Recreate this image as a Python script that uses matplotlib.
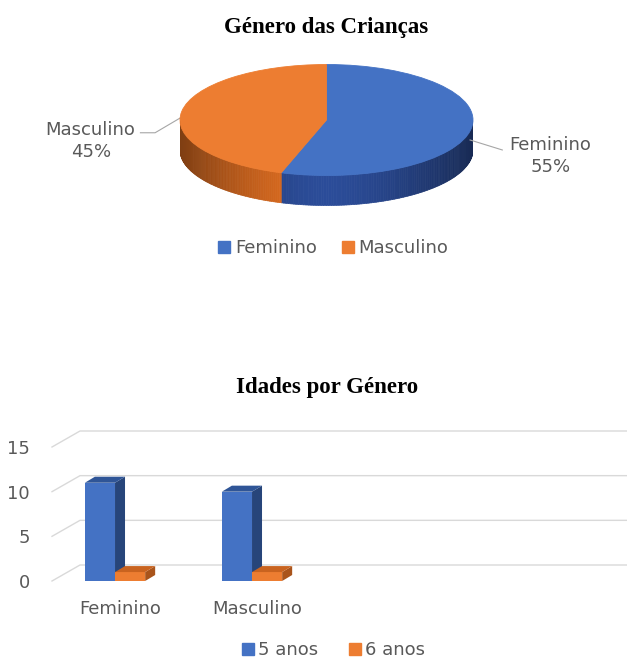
import numpy as np
import matplotlib
matplotlib.use("Agg")
import matplotlib.pyplot as plt
from matplotlib.patches import Polygon
from matplotlib.collections import PolyCollection
from matplotlib.lines import Line2D

# data
genero = ["Feminino", "Masculino"]
genero_pct = [55, 45]
idades_cats = ["Feminino", "Masculino"]
anos5 = [11, 10]
anos6 = [1, 1]
serie_nomes = ["5 anos", "6 anos"]

BLUE = "#4472C4"
ORANGE = "#ED7D31"
GRAY = "#595959"
W, H = 627, 660

fig = plt.figure(figsize=(W / 100, H / 100), dpi=100)


def px_box(x0, y0, x1, y1):
    return [x0 / W, 1 - y1 / H, (x1 - x0) / W, (y1 - y0) / H]


# ---------- pie ----------
ax1 = fig.add_axes(px_box(180, 60, 473, 210))
wedges, _ = ax1.pie(genero_pct, colors=[BLUE, ORANGE], startangle=90,
                    counterclock=False, radius=1.0,
                    wedgeprops=dict(linewidth=0.6))
for w, c in zip(wedges, [BLUE, ORANGE]):
    w.set_edgecolor(c)
    w.set_zorder(3)
ax1.set_aspect("auto")
ax1.set_xlim(-1, 1)
ax1.set_ylim(-90 / 55.5, 60 / 55.5)
ax1.axis("off")

depth = 30 / 55.5
side_base = {BLUE: np.array([0.17, 0.30, 0.60]), ORANGE: np.array([0.90, 0.44, 0.13])}
polys, cols = [], []
for w, c in zip(wedges, [BLUE, ORANGE]):
    angs = np.linspace(w.theta1, w.theta2, 200)
    for a, b in zip(angs[:-1], angs[1:]):
        m = np.deg2rad((a + b) / 2)
        if np.sin(m) >= 0:
            continue
        ra, rb = np.deg2rad(a), np.deg2rad(b)
        p = [(np.cos(ra), np.sin(ra)), (np.cos(rb), np.sin(rb)),
             (np.cos(rb), np.sin(rb) - depth), (np.cos(ra), np.sin(ra) - depth)]
        polys.append(p)
        f = 1.0 - 0.45 * abs(np.cos(m)) ** 1.5
        cols.append(np.clip(side_base[c] * f, 0, 1))
ax1.add_collection(PolyCollection(polys, facecolors=cols, edgecolors=cols,
                                  linewidths=0.5, zorder=2))

# leader lines and labels
ax1.plot([-1.27, -1.17, -0.99], [-0.23, -0.23, 0.05], color="#a6a6a6",
         lw=0.8, clip_on=False)
ax1.plot([0.98, 1.20], [-0.36, -0.54], color="#a6a6a6", lw=0.8, clip_on=False)
ax1.text(-1.61, -0.38, f"{genero[1]}\n{genero_pct[1]}%", ha="center",
         va="center", color=GRAY, fontsize=13, linespacing=1.25)
ax1.text(1.53, -0.65, f"{genero[0]}\n{genero_pct[0]}%", ha="center",
         va="center", color=GRAY, fontsize=13, linespacing=1.25)

fig.text(326 / W, 1 - 28 / H, "Género das Crianças", ha="center", va="center",
         fontsize=16.5, fontweight="bold", family="Liberation Serif")

h1 = [Line2D([], [], marker="s", ls="", color=c, markersize=8) for c in [BLUE, ORANGE]]
fig.legend(h1, genero, loc="center", bbox_to_anchor=(332 / W, 1 - 248 / H),
           ncol=2, frameon=False, fontsize=13, labelcolor=GRAY,
           handletextpad=0.1, columnspacing=1.2, handlelength=1.0)

# ---------- bars ----------
ax2 = fig.add_axes(px_box(52, 447, 600, 581))
ax2.set_xlim(-0.5, 3.5)
ax2.set_ylim(0, 15)
for s in ax2.spines.values():
    s.set_visible(False)
ax2.set_yticks([0, 5, 10, 15])
ax2.set_xticks(range(len(idades_cats)))
ax2.set_xticklabels(idades_cats)
ax2.tick_params(length=0, labelsize=13, labelcolor=GRAY)
ax2.tick_params(axis="y", pad=16)
ax2.tick_params(axis="x", pad=14)

pxx = 548 / 4.0
pxy = 134 / 15.0
gdx, gdy = 28 / pxx, 16 / pxy
for v in [0, 5, 10, 15]:
    ax2.plot([-0.5, -0.5 + gdx, 3.7], [v, v + gdy, v + gdy], color="#d9d9d9",
             lw=1, clip_on=False, zorder=0)

bw = 0.22
bdx, bdy = 10 / pxx, 6 / pxy
x = np.arange(len(idades_cats))


def bar3d(xs, hs, front, top, side, z):
    ax2.bar(xs, hs, width=bw, align="edge", color=front, zorder=z, linewidth=0)
    for x0, h in zip(xs, hs):
        x1 = x0 + bw
        ax2.add_patch(Polygon([(x1, 0), (x1 + bdx, bdy), (x1 + bdx, h + bdy), (x1, h)],
                              closed=True, color=side, zorder=z, lw=0))
        ax2.add_patch(Polygon([(x0, h), (x0 + bdx, h + bdy), (x1 + bdx, h + bdy), (x1, h)],
                              closed=True, color=top, zorder=z, lw=0))


bar3d(x - 0.26, anos5, BLUE, "#2f5597", "#27457a", 2)
bar3d(x - 0.26 + bw, anos6, ORANGE, "#c9631f", "#a9541b", 3)

fig.text(327 / W, 1 - 388 / H, "Idades por Género", ha="center", va="center",
         fontsize=16.5, fontweight="bold", family="Liberation Serif")

h2 = [Line2D([], [], marker="s", ls="", color=c, markersize=8) for c in [BLUE, ORANGE]]
fig.legend(h2, serie_nomes, loc="center", bbox_to_anchor=(332 / W, 1 - 650 / H),
           ncol=2, frameon=False, fontsize=13, labelcolor=GRAY,
           handletextpad=0.1, columnspacing=1.5, handlelength=1.0,
           borderpad=0.1)

fig.savefig("out.png", dpi=100)
